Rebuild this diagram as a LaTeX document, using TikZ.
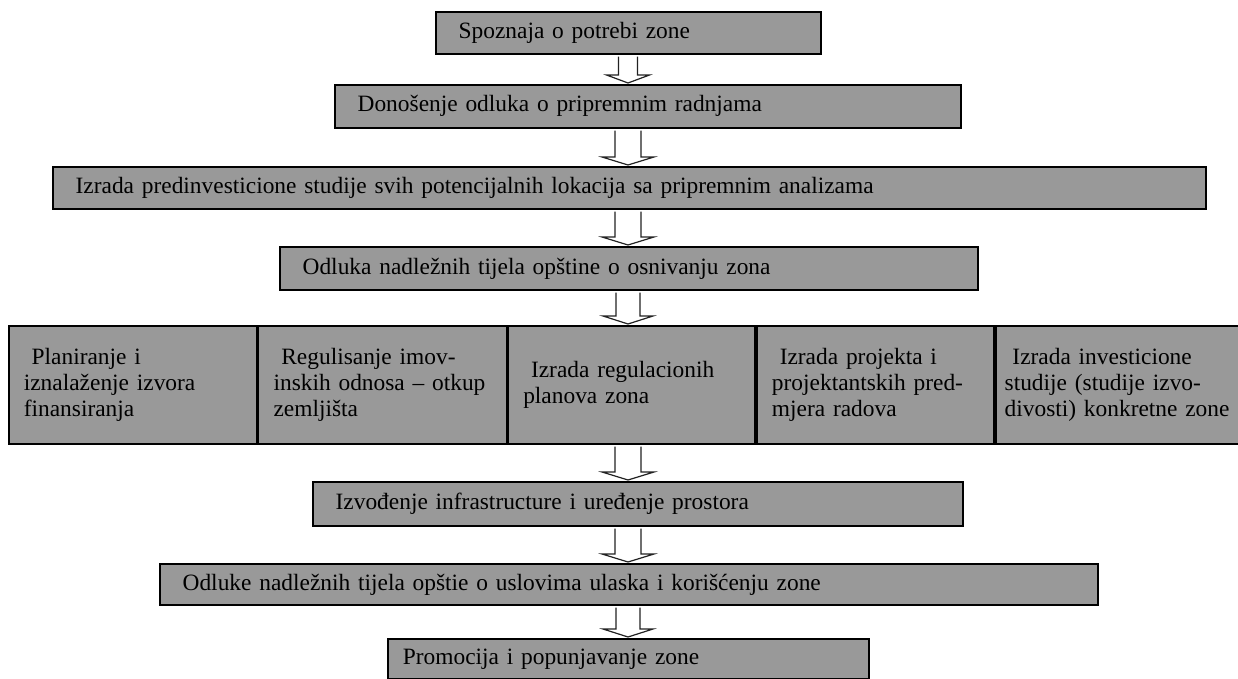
\documentclass[tikz,border=0pt]{standalone}
\usepackage{fontspec}
\setmainfont{Liberation Serif}
\usepackage{xcolor}
\usepackage{tikz}
\usetikzlibrary{calc}
\definecolor{boxgray}{HTML}{999999}
\definecolor{arrowline}{HTML}{222222}
\tikzset{
  stage/.style={draw=black, fill=boxgray, line width=1.7pt, anchor=north west, align=left,
    inner xsep=15pt, inner ysep=0pt, font=\fontsize{23.4}{26}\selectfont},
  flow/.style={draw=arrowline, fill=white, line width=1.2pt, line join=miter}
}
% hollow block arrow from one stage down to the next (shaft and head half widths)
\newcommand{\flowarrow}[4]{%
  \coordinate (top) at (#1.south -| axis);
  \coordinate (tip) at (#2.north -| axis);
  \draw[flow] ($(top)+(-#3,2)$) -- ($(tip)+(-#3,-9)$) -- ($(tip)+(-#4,-9)$) -- ($(tip)+(0,-1)$)
    -- ($(tip)+(#4,-9)$) -- ($(tip)+(#3,-9)$) -- ($(top)+(#3,2)$);
}

\begin{document}
\begin{tikzpicture}[x=1pt, y=-1pt]
  \useasboundingbox (0,0) rectangle (1238,679);
  \coordinate (axis) at (628,0);

  \node[stage, text width=355pt, minimum height=42pt] (s1) at (435,11) {\ Spoznaja o potrebi zone};
  \node[stage, text width=596pt, minimum height=43pt] (s2) at (334,84) {\ Donošenje odluka o pripremnim radnjama};
  \node[stage, text width=1123pt, minimum height=42pt] (s3) at (52,166) {\ Izrada predinvesticione studije svih potencijalnih lokacija sa pripremnim analizama};
  \node[stage, text width=668pt, minimum height=43pt] (s4) at (279,246) {\ Odluka nadležnih tijela opštine o osnivanju zona};

  % five parallel tasks
  \node[stage, text width=218pt, minimum height=118pt] (c1) at (8,325) {\ Planiranje i\\iznalaženje izvora\\finansiranja};
  \node[stage, text width=218pt, minimum height=118pt] (c2) at (c1.north east) {\ Regulisanje imov-\\inskih odnosa – otkup\\zemljišta};
  \node[stage, text width=217pt, minimum height=118pt] (c3) at (c2.north east) {\ Izrada regulacionih\\planova zona};
  \node[stage, text width=207pt, minimum height=118pt] (c4) at (c3.north east) {\ Izrada projekta i\\projektantskih pred-\\mjera radova};
  \node[stage, inner xsep=9pt, text width=230pt, minimum height=118pt] (c5) at (c4.north east) {\ Izrada investicione\\studije (studije izvo-\\divosti) konkretne zone};

  \node[stage, text width=620pt, minimum height=44pt] (s5) at (312,481) {\ Izvođenje infrastructure i uređenje prostora};
  \node[stage, text width=908pt, minimum height=41pt] (s6) at (159,563) {\ Odluke nadležnih tijela opštie o uslovima ulaska i korišćenju zone};
  \node[stage, text width=451pt, minimum height=40pt] (s7) at (387,638) {Promocija i popunjavanje zone};

  \flowarrow{s1}{s2}{9.5}{21.5}
  \flowarrow{s2}{s3}{13}{26}
  \flowarrow{s3}{s4}{13}{26}
  \flowarrow{s4}{c3}{12}{25}
  \flowarrow{c3}{s5}{13}{26}
  \flowarrow{s5}{s6}{13}{26}
  \flowarrow{s6}{s7}{12}{25}
\end{tikzpicture}
\end{document}
